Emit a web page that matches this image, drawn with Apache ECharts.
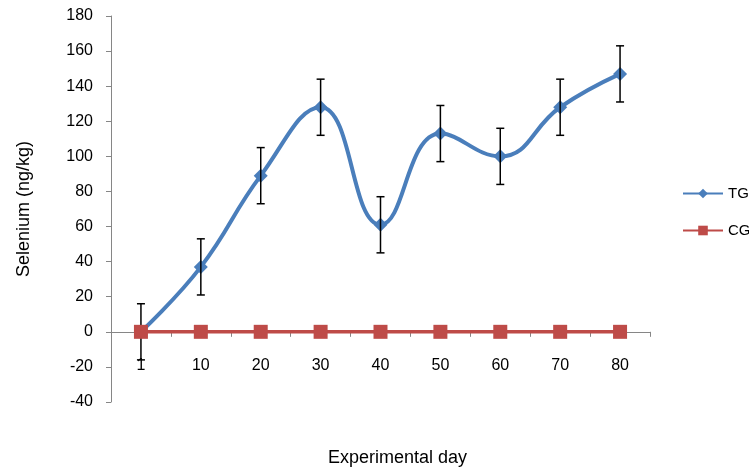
<!DOCTYPE html>
<html>
<head>
<meta charset="utf-8">
<script src="https://cdn.jsdelivr.net/npm/echarts@6/dist/echarts.min.js"></script>
<style>
  html, body { margin: 0; padding: 0; background: #fff; }
  #chart { width: 749px; height: 468px; }
</style>
</head>
<body>
<div id="chart"></div>
<script>
// Experimental days on the category axis
const days = ['1', '10', '20', '30', '40', '50', '60', '70', '80'];
// Selenium concentration (ng/kg) for the treatment and control groups
const tgValues = [0, 37, 89, 128, 61, 113, 100, 128, 147];
const cgValues = [0, 0, 0, 0, 0, 0, 0, 0, 0];
// Error (±) on each TG measurement
const tgError = [16, 16, 16, 16, 16, 16, 16, 16, 16];

const axisGray = '#868686';
const fontFamily = '"Liberation Sans", Arial, sans-serif';

const errorData = days.map((d, i) => [i, tgValues[i] - tgError[i], tgValues[i] + tgError[i]]);

const chart = echarts.init(document.getElementById('chart'), null, { renderer: 'canvas' });

chart.setOption({
  animation: false,
  backgroundColor: '#ffffff',
  grid: { left: 111, right: 99, top: 16, bottom: 66, containLabel: false, outerBoundsMode: 'none' },
  legend: {
    orient: 'vertical',
    left: 682,
    top: 186,
    padding: 0,
    itemWidth: 40,
    itemHeight: 12,
    itemGap: 22,
    textStyle: { fontFamily, fontSize: 15, color: '#000' },
    data: ['TG', 'CG']
  },
  xAxis: {
    type: 'category',
    data: days,
    boundaryGap: true,
    name: 'Experimental day',
    nameLocation: 'middle',
    nameGap: 47,
    nameTextStyle: { fontFamily, fontSize: 18, color: '#000', padding: [0, 0, 0, 34] },
    axisLine: { onZero: true, lineStyle: { color: axisGray, width: 1 } },
    axisTick: { show: true, alignWithLabel: false, length: 5, inside: false, lineStyle: { color: axisGray } },
    axisLabel: { margin: -44, verticalAlign: 'top', fontFamily, fontSize: 16, color: '#000' },
    splitLine: { show: false }
  },
  yAxis: {
    type: 'value',
    min: -40,
    max: 180,
    interval: 20,
    name: 'Selenium (ng/kg)',
    nameLocation: 'middle',
    nameGap: 78,
    nameRotate: 90,
    nameTextStyle: { fontFamily, fontSize: 18, color: '#000' },
    axisLine: { show: true, lineStyle: { color: axisGray, width: 1 } },
    axisTick: { show: true, length: 5, lineStyle: { color: axisGray } },
    axisLabel: { margin: 18, fontFamily, fontSize: 16, color: '#000' },
    splitLine: { show: false }
  },
  series: [
    {
      name: 'TG',
      type: 'line',
      data: tgValues,
      smooth: 0.45,
      symbol: 'diamond',
      symbolSize: 14,
      itemStyle: { color: '#4A7EBB' },
      lineStyle: { color: '#4A7EBB', width: 4 },
      z: 3
    },
    {
      name: 'TG error',
      type: 'custom',
      data: errorData,
      encode: { x: 0, y: [1, 2] },
      z: 4,
      silent: true,
      renderItem: function (params, api) {
        const idx = api.value(0);
        const lo = api.coord([idx, api.value(1)]);
        const hi = api.coord([idx, api.value(2)]);
        const half = 4;
        const style = { stroke: '#000', lineWidth: 1.5, fill: null };
        return {
          type: 'group',
          children: [
            { type: 'line', shape: { x1: hi[0], y1: hi[1], x2: lo[0], y2: lo[1] }, style },
            { type: 'line', shape: { x1: hi[0] - half, y1: hi[1], x2: hi[0] + half, y2: hi[1] }, style },
            { type: 'line', shape: { x1: lo[0] - half, y1: lo[1], x2: lo[0] + half, y2: lo[1] }, style }
          ]
        };
      }
    },
    {
      name: 'CG',
      type: 'line',
      data: cgValues,
      symbol: 'rect',
      symbolSize: 14,
      itemStyle: { color: '#BE4B48' },
      lineStyle: { color: '#BE4B48', width: 3.5 },
      z: 5
    }
  ]
});
</script>
</body>
</html>
